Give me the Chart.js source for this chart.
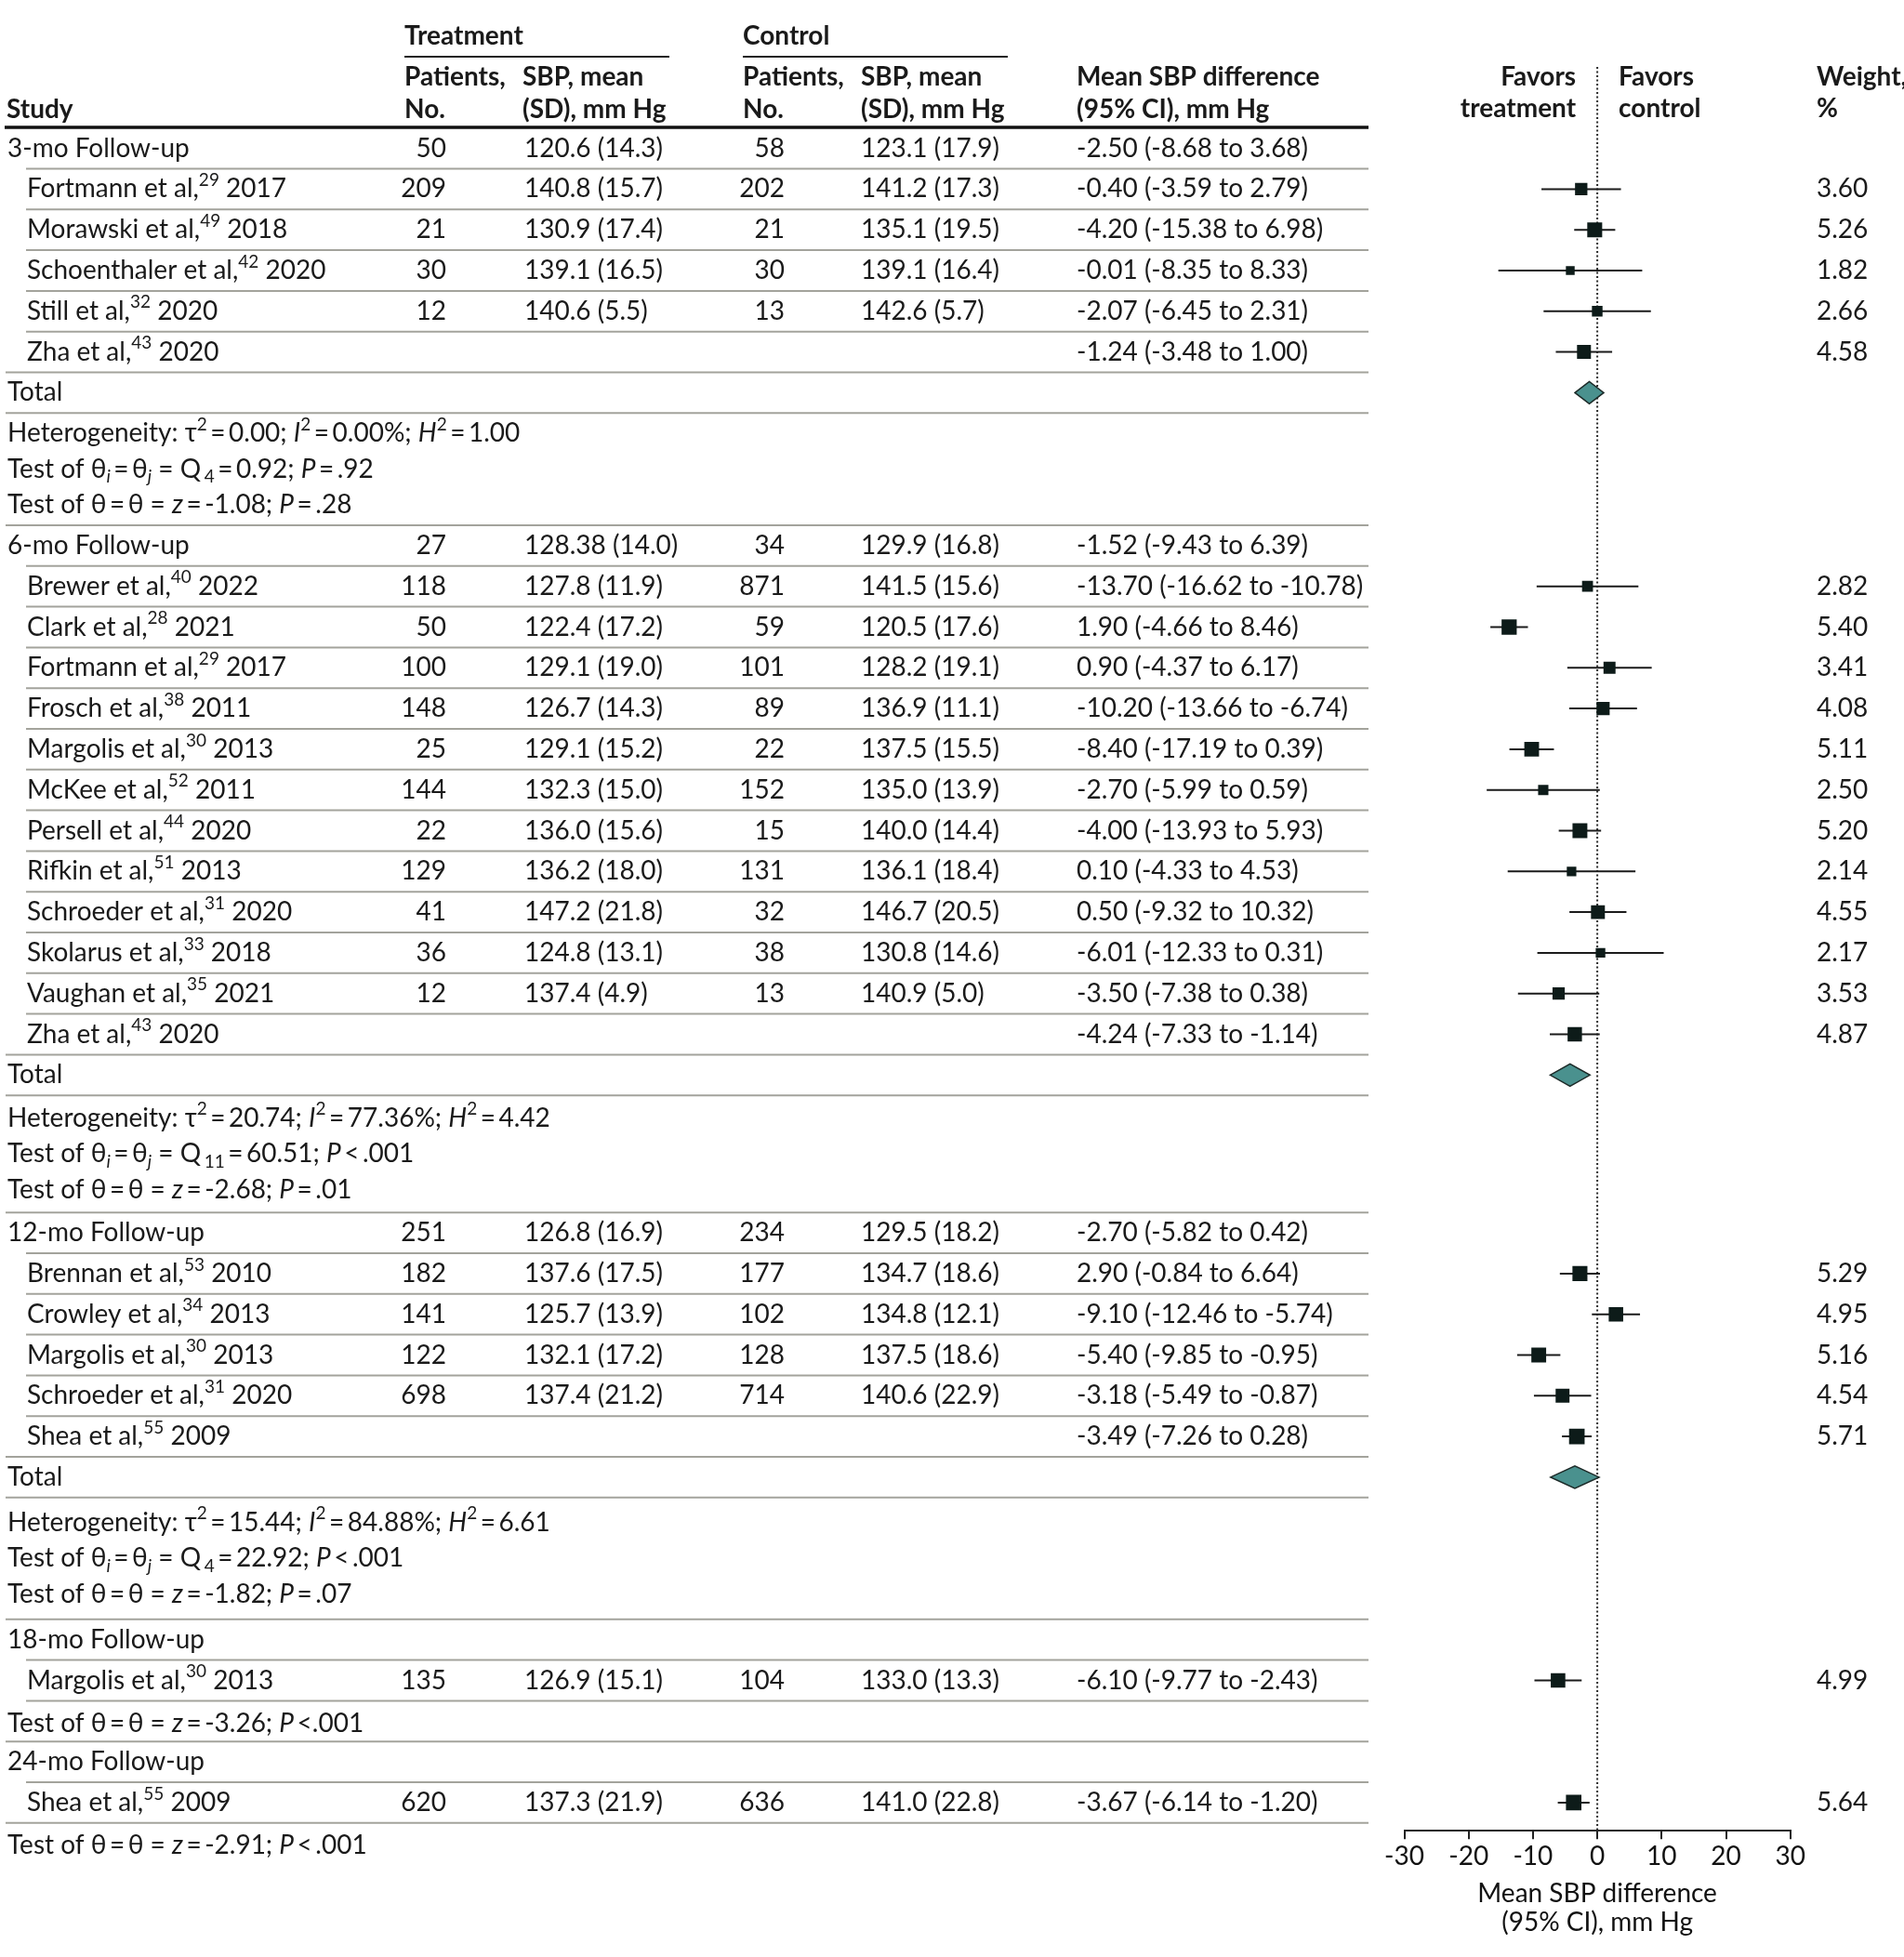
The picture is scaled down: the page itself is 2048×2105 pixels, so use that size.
<!DOCTYPE html>
<html>
<head>
<meta charset="utf-8">
<script src="https://cdn.jsdelivr.net/npm/chart.js@4.4.0/dist/chart.umd.min.js"></script>
<style>
html, body { margin: 0; padding: 0; background: #fff; overflow: hidden; }
#wrap { width: 2048px; height: 2105px; position: relative; }
</style>
</head>
<body>
<div id="wrap"><canvas id="forest"></canvas></div>
<script>
// ---------------- data ----------------
// row kinds top to bottom: G group, S study, T total, H stats line (block), Z single stats line
var rowKinds = 'GSSSSSTHHHGSSSSSSSSSSSSTHHHGSSSSSTHHHGSZGSZ'.split('');

var groupLabels = ['3-mo Follow-up', '6-mo Follow-up', '12-mo Follow-up', '18-mo Follow-up', '24-mo Follow-up'];

var studyNames = ['Fortmann et al', 'Morawski et al', 'Schoenthaler et al', 'Still et al', 'Zha et al',
  'Brewer et al', 'Clark et al', 'Fortmann et al', 'Frosch et al', 'Margolis et al', 'McKee et al',
  'Persell et al', 'Rifkin et al', 'Schroeder et al', 'Skolarus et al', 'Vaughan et al', 'Zha et al',
  'Brennan et al', 'Crowley et al', 'Margolis et al', 'Schroeder et al', 'Shea et al',
  'Margolis et al', 'Shea et al'];
var studyRefs = [29, 49, 42, 32, 43, 40, 28, 29, 38, 30, 52, 44, 51, 31, 33, 35, 43, 53, 34, 30, 31, 55, 30, 55];
var studyYears = [2017, 2018, 2020, 2020, 2020, 2022, 2021, 2017, 2011, 2013, 2011, 2020, 2013, 2020, 2018, 2021, 2020,
  2010, 2013, 2013, 2020, 2009, 2013, 2009];

// table columns, one entry per row (blank where the cell is empty)
var treatN = ['50', '209', '21', '30', '12', '', '', '', '', '',
  '27', '118', '50', '100', '148', '25', '144', '22', '129', '41', '36', '12', '', '', '', '', '',
  '251', '182', '141', '122', '698', '', '', '', '', '',
  '', '135', '', '', '620', ''];
var treatSBP = ['120.6 (14.3)', '140.8 (15.7)', '130.9 (17.4)', '139.1 (16.5)', '140.6 (5.5)', '', '', '', '', '',
  '128.38 (14.0)', '127.8 (11.9)', '122.4 (17.2)', '129.1 (19.0)', '126.7 (14.3)', '129.1 (15.2)', '132.3 (15.0)',
  '136.0 (15.6)', '136.2 (18.0)', '147.2 (21.8)', '124.8 (13.1)', '137.4 (4.9)', '', '', '', '', '',
  '126.8 (16.9)', '137.6 (17.5)', '125.7 (13.9)', '132.1 (17.2)', '137.4 (21.2)', '', '', '', '', '',
  '', '126.9 (15.1)', '', '', '137.3 (21.9)', ''];
var ctrlN = ['58', '202', '21', '30', '13', '', '', '', '', '',
  '34', '871', '59', '101', '89', '22', '152', '15', '131', '32', '38', '13', '', '', '', '', '',
  '234', '177', '102', '128', '714', '', '', '', '', '',
  '', '104', '', '', '636', ''];
var ctrlSBP = ['123.1 (17.9)', '141.2 (17.3)', '135.1 (19.5)', '139.1 (16.4)', '142.6 (5.7)', '', '', '', '', '',
  '129.9 (16.8)', '141.5 (15.6)', '120.5 (17.6)', '128.2 (19.1)', '136.9 (11.1)', '137.5 (15.5)', '135.0 (13.9)',
  '140.0 (14.4)', '136.1 (18.4)', '146.7 (20.5)', '130.8 (14.6)', '140.9 (5.0)', '', '', '', '', '',
  '129.5 (18.2)', '134.7 (18.6)', '134.8 (12.1)', '137.5 (18.6)', '140.6 (22.9)', '', '', '', '', '',
  '', '133.0 (13.3)', '', '', '141.0 (22.8)', ''];
var diffCI = ['-2.50 (-8.68 to 3.68)', '-0.40 (-3.59 to 2.79)', '-4.20 (-15.38 to 6.98)', '-0.01 (-8.35 to 8.33)',
  '-2.07 (-6.45 to 2.31)', '-1.24 (-3.48 to 1.00)', '', '', '', '',
  '-1.52 (-9.43 to 6.39)', '-13.70 (-16.62 to -10.78)', '1.90 (-4.66 to 8.46)', '0.90 (-4.37 to 6.17)',
  '-10.20 (-13.66 to -6.74)', '-8.40 (-17.19 to 0.39)', '-2.70 (-5.99 to 0.59)', '-4.00 (-13.93 to 5.93)',
  '0.10 (-4.33 to 4.53)', '0.50 (-9.32 to 10.32)', '-6.01 (-12.33 to 0.31)', '-3.50 (-7.38 to 0.38)',
  '-4.24 (-7.33 to -1.14)', '', '', '', '',
  '-2.70 (-5.82 to 0.42)', '2.90 (-0.84 to 6.64)', '-9.10 (-12.46 to -5.74)', '-5.40 (-9.85 to -0.95)',
  '-3.18 (-5.49 to -0.87)', '-3.49 (-7.26 to 0.28)', '', '', '', '',
  '', '-6.10 (-9.77 to -2.43)', '', '', '-3.67 (-6.14 to -1.20)', ''];

// plotted marks, one per study row (as drawn in the figure)
var studyWeight = [3.60, 5.26, 1.82, 2.66, 4.58,
  2.82, 5.40, 3.41, 4.08, 5.11, 2.50, 5.20, 2.14, 4.55, 2.17, 3.53, 4.87,
  5.29, 4.95, 5.16, 4.54, 5.71, 4.99, 5.64];
var studyEst = [-2.50, -0.40, -4.20, -0.01, -2.07,
  -1.52, -13.70, 1.90, 0.90, -10.20, -8.40, -2.70, -4.00, 0.10, 0.50, -6.01, -3.50,
  -2.70, 2.90, -9.10, -5.40, -3.18, -6.10, -3.67];
var studyLo = [-8.68, -3.59, -15.38, -8.35, -6.45,
  -9.43, -16.62, -4.66, -4.37, -13.66, -17.19, -5.99, -13.93, -4.33, -9.32, -12.33, -7.38,
  -5.82, -0.84, -12.46, -9.85, -5.49, -9.77, -6.14];
var studyHi = [3.68, 2.79, 6.98, 8.33, 2.31,
  6.39, -10.78, 8.46, 6.17, -6.74, 0.39, 0.59, 5.93, 4.53, 10.32, 0.31, 0.38,
  0.42, 6.64, -5.74, -0.95, -0.87, -2.43, -1.20];

// pooled estimates (diamonds)
var totalEst = [-1.24, -4.24, -3.49];
var totalLo = [-3.48, -7.33, -7.26];
var totalHi = [1.00, -1.14, 0.28];

// statistics lines  (^sup^  _sub_  *italic*)
var T = '\u2009';
var statLines = [
  'Heterogeneity: τ^2^' + T + '=' + T + '0.00; *I*^2^' + T + '=' + T + '0.00%; *H*^2^' + T + '=' + T + '1.00',
  'Test of θ_*i*_' + T + '=' + T + 'θ_*j*_ = Q' + T + '_4_' + T + '=' + T + '0.92; *P*' + T + '=' + T + '.92',
  'Test of θ' + T + '=' + T + 'θ = *z*' + T + '=' + T + '-1.08; *P*' + T + '=' + T + '.28',
  'Heterogeneity: τ^2^' + T + '=' + T + '20.74; *I*^2^' + T + '=' + T + '77.36%; *H*^2^' + T + '=' + T + '4.42',
  'Test of θ_*i*_' + T + '=' + T + 'θ_*j*_ = Q' + T + '_11_' + T + '=' + T + '60.51; *P*' + T + '<' + T + '.001',
  'Test of θ' + T + '=' + T + 'θ = *z*' + T + '=' + T + '-2.68; *P*' + T + '=' + T + '.01',
  'Heterogeneity: τ^2^' + T + '=' + T + '15.44; *I*^2^' + T + '=' + T + '84.88%; *H*^2^' + T + '=' + T + '6.61',
  'Test of θ_*i*_' + T + '=' + T + 'θ_*j*_ = Q' + T + '_4_' + T + '=' + T + '22.92; *P*' + T + '<' + T + '.001',
  'Test of θ' + T + '=' + T + 'θ = *z*' + T + '=' + T + '-1.82; *P*' + T + '=' + T + '.07',
  'Test of θ' + T + '=' + T + 'θ = *z*' + T + '=' + T + '-3.26; *P*' + T + '<.001',
  'Test of θ' + T + '=' + T + 'θ = *z*' + T + '=' + T + '-2.91; *P*' + T + '<' + T + '.001'
];

var xTicks = [-30, -20, -10, 0, 10, 20, 30];

// ---------------- layout ----------------
var FONT = 'Lato, "Noto Sans", sans-serif';
var FS = 28;
var TEXT = '#1a1a1a';
var ROW_PX = 43.8;      // height of one table row
var TOP_PX = 137.7;     // pixel of row unit 0
var AXIS_PX = 1969.3;   // pixel of x axis line
var STAT_BLOCK_PX = [120.7, 126, 131];  // heights of the 3-line statistics blocks
var STAT_GAP_PX = 38.5;                 // line spacing inside a block
var COL = { label: 8, study: 29, treatN: 480, treatSBP: 564, ctrlN: 844, ctrlSBP: 926, diff: 1158, weight: 1954 };
var RULE_L_FULL = 6, RULE_L_IN = 28, RULE_R = 1472;

// row positions in row units
var rows = [];
var u = 0, si = 0, ti = 0, gi = 0, hi = 0, bi = 0, blockTop = 0, blockLine = 0;
rowKinds.forEach(function(k, i) {
  var r = { kind: k, top: u };
  if (k === 'H') {
    var first = rowKinds[i - 1] !== 'H', last = rowKinds[i + 1] !== 'H';
    var bh = STAT_BLOCK_PX[bi] / ROW_PX;
    if (first) { blockTop = u; blockLine = 0; }
    r.center = blockTop + bh / 2 + (blockLine - 1) * STAT_GAP_PX / ROW_PX;
    blockLine++;
    if (last) { u = blockTop + bh; bi++; }
    r.text = statLines[hi++];
  } else if (k === 'Z') {
    r.center = u + 0.55;
    u += 1;
    r.text = statLines[hi++];
  } else {
    r.center = u + 0.5;
    u += 1;
    if (k === 'G') r.text = groupLabels[gi++];
    if (k === 'T') { r.text = 'Total'; r.total = ti++; }
    if (k === 'S') { r.study = si; r.text = studyNames[si] + ',^' + studyRefs[si] + '^ ' + studyYears[si]; si++; }
  }
  r.bottom = u;
  rows.push(r);
});
// rule under each row
rows.forEach(function(r, i) {
  var next = rows[i + 1];
  r.rule = null;
  if (!next) return;
  if (r.kind === 'G') r.rule = 'in';
  else if (r.kind === 'S') r.rule = next.kind === 'S' ? 'in' : next.kind === 'T' ? 'full' : (i + 2 === rows.length ? 'full' : 'in');
  else if (r.kind === 'T' || r.kind === 'Z') r.rule = 'full';
  else if (r.kind === 'H') r.rule = next.kind === 'H' ? null : 'full';
});

var studyRows = rows.filter(function(r) { return r.kind === 'S'; });
var totalRows = rows.filter(function(r) { return r.kind === 'T'; });

var squarePoints = studyRows.map(function(r, i) { return { x: studyEst[i], y: r.center }; });
var whiskerPoints = [];
studyRows.forEach(function(r, i) {
  whiskerPoints.push({ x: studyLo[i], y: r.center }, { x: studyHi[i], y: r.center }, { x: null, y: null });
});

// text with ^sup^, _sub_ and *italic* runs
function drawRich(ctx, str, x, y, size, align) {
  var segs = [], sup = false, sub = false, it = false, buf = '';
  function flush() { if (buf) segs.push({ t: buf, sup: sup, sub: sub, it: it }); buf = ''; }
  for (var c of str) {
    if (c === '^') { flush(); sup = !sup; }
    else if (c === '_') { flush(); sub = !sub; }
    else if (c === '*') { flush(); it = !it; }
    else buf += c;
  }
  flush();
  function fontOf(s) { return (s.it ? 'italic ' : '') + ((s.sup || s.sub) ? Math.round(size * 0.68) : size) + 'px ' + FONT; }
  var w = 0;
  segs.forEach(function(s) { ctx.font = fontOf(s); s.w = ctx.measureText(s.t).width; w += s.w; });
  var cx = align === 'right' ? x - w : x;
  ctx.textAlign = 'left';
  segs.forEach(function(s) {
    ctx.font = fontOf(s);
    var dy = s.sup ? -size * 0.34 : s.sub ? size * 0.3 : 0;
    ctx.fillText(s.t, cx, y + dy);
    cx += s.w;
  });
}

function txt(ctx, s, x, y, align, bold) {
  if (!s) return;
  ctx.font = (bold ? 'bold ' : '') + FS + 'px ' + FONT;
  ctx.textAlign = align || 'left';
  ctx.fillText(s, x, y);
}

var forestTable = {
  id: 'forestTable',
  beforeDatasetsDraw: function(chart) {
    var ctx = chart.ctx, x0 = chart.scales.x.getPixelForValue(0);
    ctx.save();
    ctx.strokeStyle = '#2a2a2a';
    ctx.lineWidth = 2;
    ctx.setLineDash([2, 2.5]);
    ctx.beginPath();
    ctx.moveTo(x0, 72);
    ctx.lineTo(x0, chart.chartArea.bottom);
    ctx.stroke();
    ctx.restore();
  },
  afterDatasetsDraw: function(chart) {
    var ctx = chart.ctx, xs = chart.scales.x, ys = chart.scales.y;
    ctx.save();
    totalRows.forEach(function(r, i) {
      var y = ys.getPixelForValue(r.center);
      ctx.beginPath();
      ctx.moveTo(xs.getPixelForValue(totalLo[i]), y);
      ctx.lineTo(xs.getPixelForValue(totalEst[i]), y - 12);
      ctx.lineTo(xs.getPixelForValue(totalHi[i]), y);
      ctx.lineTo(xs.getPixelForValue(totalEst[i]), y + 12);
      ctx.closePath();
      ctx.fillStyle = '#4a918e';
      ctx.fill();
      ctx.strokeStyle = '#1c2a28';
      ctx.lineWidth = 1.5;
      ctx.stroke();
    });
    ctx.restore();
  },
  afterDraw: function(chart) {
    var ctx = chart.ctx, xs = chart.scales.x, ys = chart.scales.y;
    var x0 = xs.getPixelForValue(0);
    ctx.save();
    ctx.fillStyle = TEXT;
    ctx.textBaseline = 'middle';

    // header
    txt(ctx, 'Treatment', 435, 39, 'left', true);
    txt(ctx, 'Control', 799, 39, 'left', true);
    txt(ctx, 'Patients,', 435, 83, 'left', true);
    txt(ctx, 'SBP, mean', 562, 83, 'left', true);
    txt(ctx, 'Patients,', 799, 83, 'left', true);
    txt(ctx, 'SBP, mean', 926, 83, 'left', true);
    txt(ctx, 'Mean SBP difference', 1158, 83, 'left', true);
    txt(ctx, 'Study', 7, 118, 'left', true);
    txt(ctx, 'No.', 435, 118, 'left', true);
    txt(ctx, '(SD), mm Hg', 562, 118, 'left', true);
    txt(ctx, 'No.', 799, 118, 'left', true);
    txt(ctx, '(SD), mm Hg', 926, 118, 'left', true);
    txt(ctx, '(95% CI), mm Hg', 1158, 118, 'left', true);
    txt(ctx, 'Favors', x0 - 23, 83, 'right', true);
    txt(ctx, 'treatment', x0 - 23, 117, 'right', true);
    txt(ctx, 'Favors', x0 + 23, 83, 'left', true);
    txt(ctx, 'control', x0 + 23, 117, 'left', true);
    txt(ctx, 'Weight,', COL.weight, 83, 'left', true);
    txt(ctx, '%', COL.weight, 117, 'left', true);

    ctx.strokeStyle = '#222';
    ctx.lineWidth = 2;
    ctx.beginPath();
    ctx.moveTo(435, 61); ctx.lineTo(720, 61);
    ctx.moveTo(799, 61); ctx.lineTo(1084, 61);
    ctx.stroke();
    ctx.strokeStyle = '#111';
    ctx.lineWidth = 3.5;
    ctx.beginPath();
    ctx.moveTo(5, 137); ctx.lineTo(RULE_R, 137);
    ctx.stroke();

    // body rows
    rows.forEach(function(r, i) {
      var y = ys.getPixelForValue(r.center);
      ctx.fillStyle = TEXT;
      if (r.kind === 'H' || r.kind === 'Z') {
        drawRich(ctx, r.text, COL.label, y, FS, 'left');
      } else if (r.kind === 'S') {
        drawRich(ctx, r.text, COL.study, y, FS, 'left');
        txt(ctx, studyWeight[r.study].toFixed(2), COL.weight, y, 'left');
      } else {
        txt(ctx, r.text, COL.label, y, 'left');
      }
      txt(ctx, treatN[i], COL.treatN, y, 'right');
      txt(ctx, treatSBP[i], COL.treatSBP, y, 'left');
      txt(ctx, ctrlN[i], COL.ctrlN, y, 'right');
      txt(ctx, ctrlSBP[i], COL.ctrlSBP, y, 'left');
      txt(ctx, diffCI[i], COL.diff, y, 'left');
      if (r.rule) {
        var yl = ys.getPixelForValue(r.bottom);
        ctx.strokeStyle = '#a3a39c';
        ctx.lineWidth = 2;
        ctx.beginPath();
        ctx.moveTo(r.rule === 'in' ? RULE_L_IN : RULE_L_FULL, yl);
        ctx.lineTo(RULE_R, yl);
        ctx.stroke();
      }
    });
    ctx.restore();
  }
};

var chartArea = document.getElementById('forest').getContext('2d');
var myChart = new Chart(chartArea, {
  type: 'scatter',
  data: {
    datasets: [{
      label: 'Study estimate',
      data: squarePoints,
      pointStyle: 'rect',
      pointRadius: function(c) { return 7 * Math.sqrt(studyWeight[c.dataIndex]) / Math.SQRT2; },
      backgroundColor: '#0d1b19',
      borderColor: '#0d1b19',
      borderWidth: 0,
      order: 0
    }, {
      label: '95% CI',
      data: whiskerPoints,
      showLine: true,
      spanGaps: false,
      pointRadius: 0,
      borderColor: '#1b1b1b',
      borderWidth: 2,
      order: 1
    }]
  },
  options: {
    responsive: true,
    maintainAspectRatio: false,
    animation: false,
    events: [],
    layout: { padding: { left: 1510.5, right: 122.3, top: TOP_PX, bottom: 0 } },
    plugins: { legend: { display: false }, tooltip: { enabled: false } },
    scales: {
      x: {
        type: 'linear',
        min: xTicks[0],
        max: xTicks[xTicks.length - 1],
        afterBuildTicks: function(s) { s.ticks = xTicks.map(function(v) { return { value: v }; }); },
        ticks: { color: '#111', font: { family: FONT, size: FS }, padding: 2, maxRotation: 0 },
        grid: { display: true, drawOnChartArea: false, drawTicks: true, tickLength: 9, color: '#222', lineWidth: 2 },
        border: { display: true, color: '#222', width: 2 },
        title: {
          display: true,
          text: ['Mean SBP difference', '(95% CI), mm Hg'],
          color: '#111',
          font: { family: FONT, size: FS, lineHeight: 1.13 },
          padding: { top: 6, bottom: 21 }
        },
        afterFit: function(s) { s.height = 2105 - AXIS_PX; }
      },
      y: {
        type: 'linear',
        reverse: true,
        min: 0,
        max: (AXIS_PX - TOP_PX) / ROW_PX,
        display: false
      }
    }
  },
  plugins: [forestTable]
});
</script>
</body>
</html>
